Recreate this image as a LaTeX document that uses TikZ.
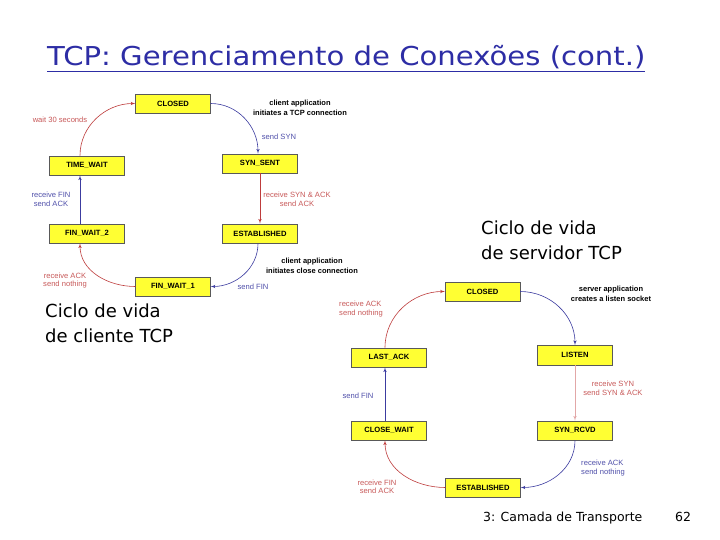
\documentclass[tikz,border=0pt]{standalone}
\usepackage{fontspec}
\setmainfont{Liberation Sans}
\newfontfamily\slidefont{DejaVu Sans}
\newfontfamily\titlefont[FakeStretch=1.12]{DejaVu Sans}
\usetikzlibrary{positioning}
\usetikzlibrary{arrows}

\definecolor{stateyellow}{RGB}{255,255,51}
\definecolor{linered}{RGB}{190,60,60}
\definecolor{lineblue}{RGB}{60,60,160}
\definecolor{titleblue}{RGB}{45,45,165}

\begin{document}
\begin{tikzpicture}[x=1pt,y=1pt,>=latex',
	state node/.style={draw=gray!70!black,fill=stateyellow,minimum width=75pt,
		minimum height=19.5pt,inner sep=0pt,font=\bfseries\fontsize{7.6}{8}\selectfont},
	red edge/.style={->,draw=linered,line width=0.6pt},
	blue edge/.style={->,draw=lineblue,line width=0.6pt},
	red label/.style={text=linered!85,font=\fontsize{7.6}{8.5}\selectfont,align=center,inner sep=0pt},
	blue label/.style={text=lineblue!90,font=\fontsize{7.6}{8.5}\selectfont,align=center,inner sep=0pt},
	note label/.style={font=\bfseries\fontsize{7.5}{10.5}\selectfont,align=center,inner sep=0pt},
	slide text/.style={font=\slidefont\fontsize{18}{25}\selectfont,align=left,inner sep=0pt}]
	
	\useasboundingbox[fill=white] (0,0) rectangle (720,-540);
	
	% title
	\node[anchor=base west,inner sep=0pt,text=titleblue,font=\titlefont\fontsize{26}{30}\selectfont]
		(title) at (47,-66) {\underline{TCP: Gerenciamento de Conexões (cont.)}};
	
	% client side
	\node[state node] (c closed) at (173,-103.5) {CLOSED};
	\node[state node] (c timewait) at (87,-165.5) {TIME\_WAIT};
	\node[state node] (c synsent) at (260,-163.5) {SYN\_SENT};
	\node[state node] (c finwait2) at (87,-233.5) {FIN\_WAIT\_2};
	\node[state node] (c estab) at (260,-233.5) {ESTABLISHED};
	\node[state node] (c finwait1) at (173,-286.5) {FIN\_WAIT\_1};
	
	\path
	([xshift=-7pt]c timewait.north) edge[red edge,out=90,in=180] (c closed.west)
	(c closed.east) edge[blue edge,out=0,in=90] ([xshift=-2pt]c synsent.north)
	(c synsent.south) edge[red edge] (c estab.north)
	([xshift=-2pt]c estab.south) edge[blue edge,out=-90,in=0] (c finwait1.east)
	(c finwait1.west) edge[red edge,out=180,in=-90] ([xshift=-7pt]c finwait2.south)
	([xshift=-7pt]c finwait2.north) edge[blue edge] ([xshift=-7pt]c timewait.south);
	
	\node[red label] (c wait) at (60,-120) {wait 30 seconds};
	\node[note label] (c open) at (300,-108) {client application\\initiates a TCP connection};
	\node[blue label] (c sendsyn) at (279,-137) {send SYN};
	\node[blue label] (c recvfin) at (51,-199.5) {receive FIN\\send ACK};
	\node[red label] (c recvsynack) at (297,-199.5) {receive SYN \& ACK\\send ACK};
	\node[note label] (c close) at (312,-266) {client application\\initiates close connection};
	\node[red label] (c recvack) at (65,-280.5) {receive ACK\\send nothing};
	\node[blue label] (c sendfin) at (253,-287) {send FIN};
	
	% server side
	\node[state node] (s closed) at (482.5,-291.5) {CLOSED};
	\node[state node] (s listen) at (575,-355) {LISTEN};
	\node[state node] (s lastack) at (389,-357.5) {LAST\_ACK};
	\node[state node] (s closewait) at (389,-430.5) {CLOSE\_WAIT};
	\node[state node] (s synrcvd) at (575,-430.5) {SYN\_RCVD};
	\node[state node] (s estab) at (483,-487.5) {ESTABLISHED};
	
	\path
	([xshift=-4pt]s lastack.north) edge[red edge,out=90,in=180] (s closed.west)
	(s closed.east) edge[blue edge,out=0,in=90] (s listen.north)
	(s listen.south) edge[red edge,draw=linered!45] (s synrcvd.north)
	(s synrcvd.south) edge[blue edge,out=-90,in=0] (s estab.east)
	(s estab.west) edge[red edge,out=180,in=-90] ([xshift=-4pt]s closewait.south)
	([xshift=-4pt]s closewait.north) edge[blue edge] ([xshift=-4pt]s lastack.south);
	
	\node[red label,align=left] (s recvack) at (361,-309) {receive ACK\\send nothing};
	\node[note label] (s open) at (611,-294) {server application\\creates a listen socket};
	\node[blue label] (s sendfin) at (358,-396) {send FIN};
	\node[red label] (s recvsyn) at (613,-388.5) {receive SYN\\send SYN \& ACK};
	\node[blue label,align=left] (s recvack2) at (603,-468) {receive ACK\\send nothing};
	\node[red label] (s recvfin) at (377,-487) {receive FIN\\send ACK};
	
	% captions
	\node[slide text,anchor=north west] (server cap) at (481,-221) {Ciclo de vida\\de servidor TCP};
	\node[slide text,anchor=north west] (client cap) at (45,-304) {Ciclo de vida\\de cliente TCP};
	\node[anchor=base west,inner sep=0pt,font=\slidefont\fontsize{12.5}{14}\selectfont]
		(footer) at (483,-521) {3: Camada de Transporte};
	\node[anchor=base west,inner sep=0pt,font=\slidefont\fontsize{12.5}{14}\selectfont]
		(page) at (675,-521) {62};
\end{tikzpicture}
\end{document}
